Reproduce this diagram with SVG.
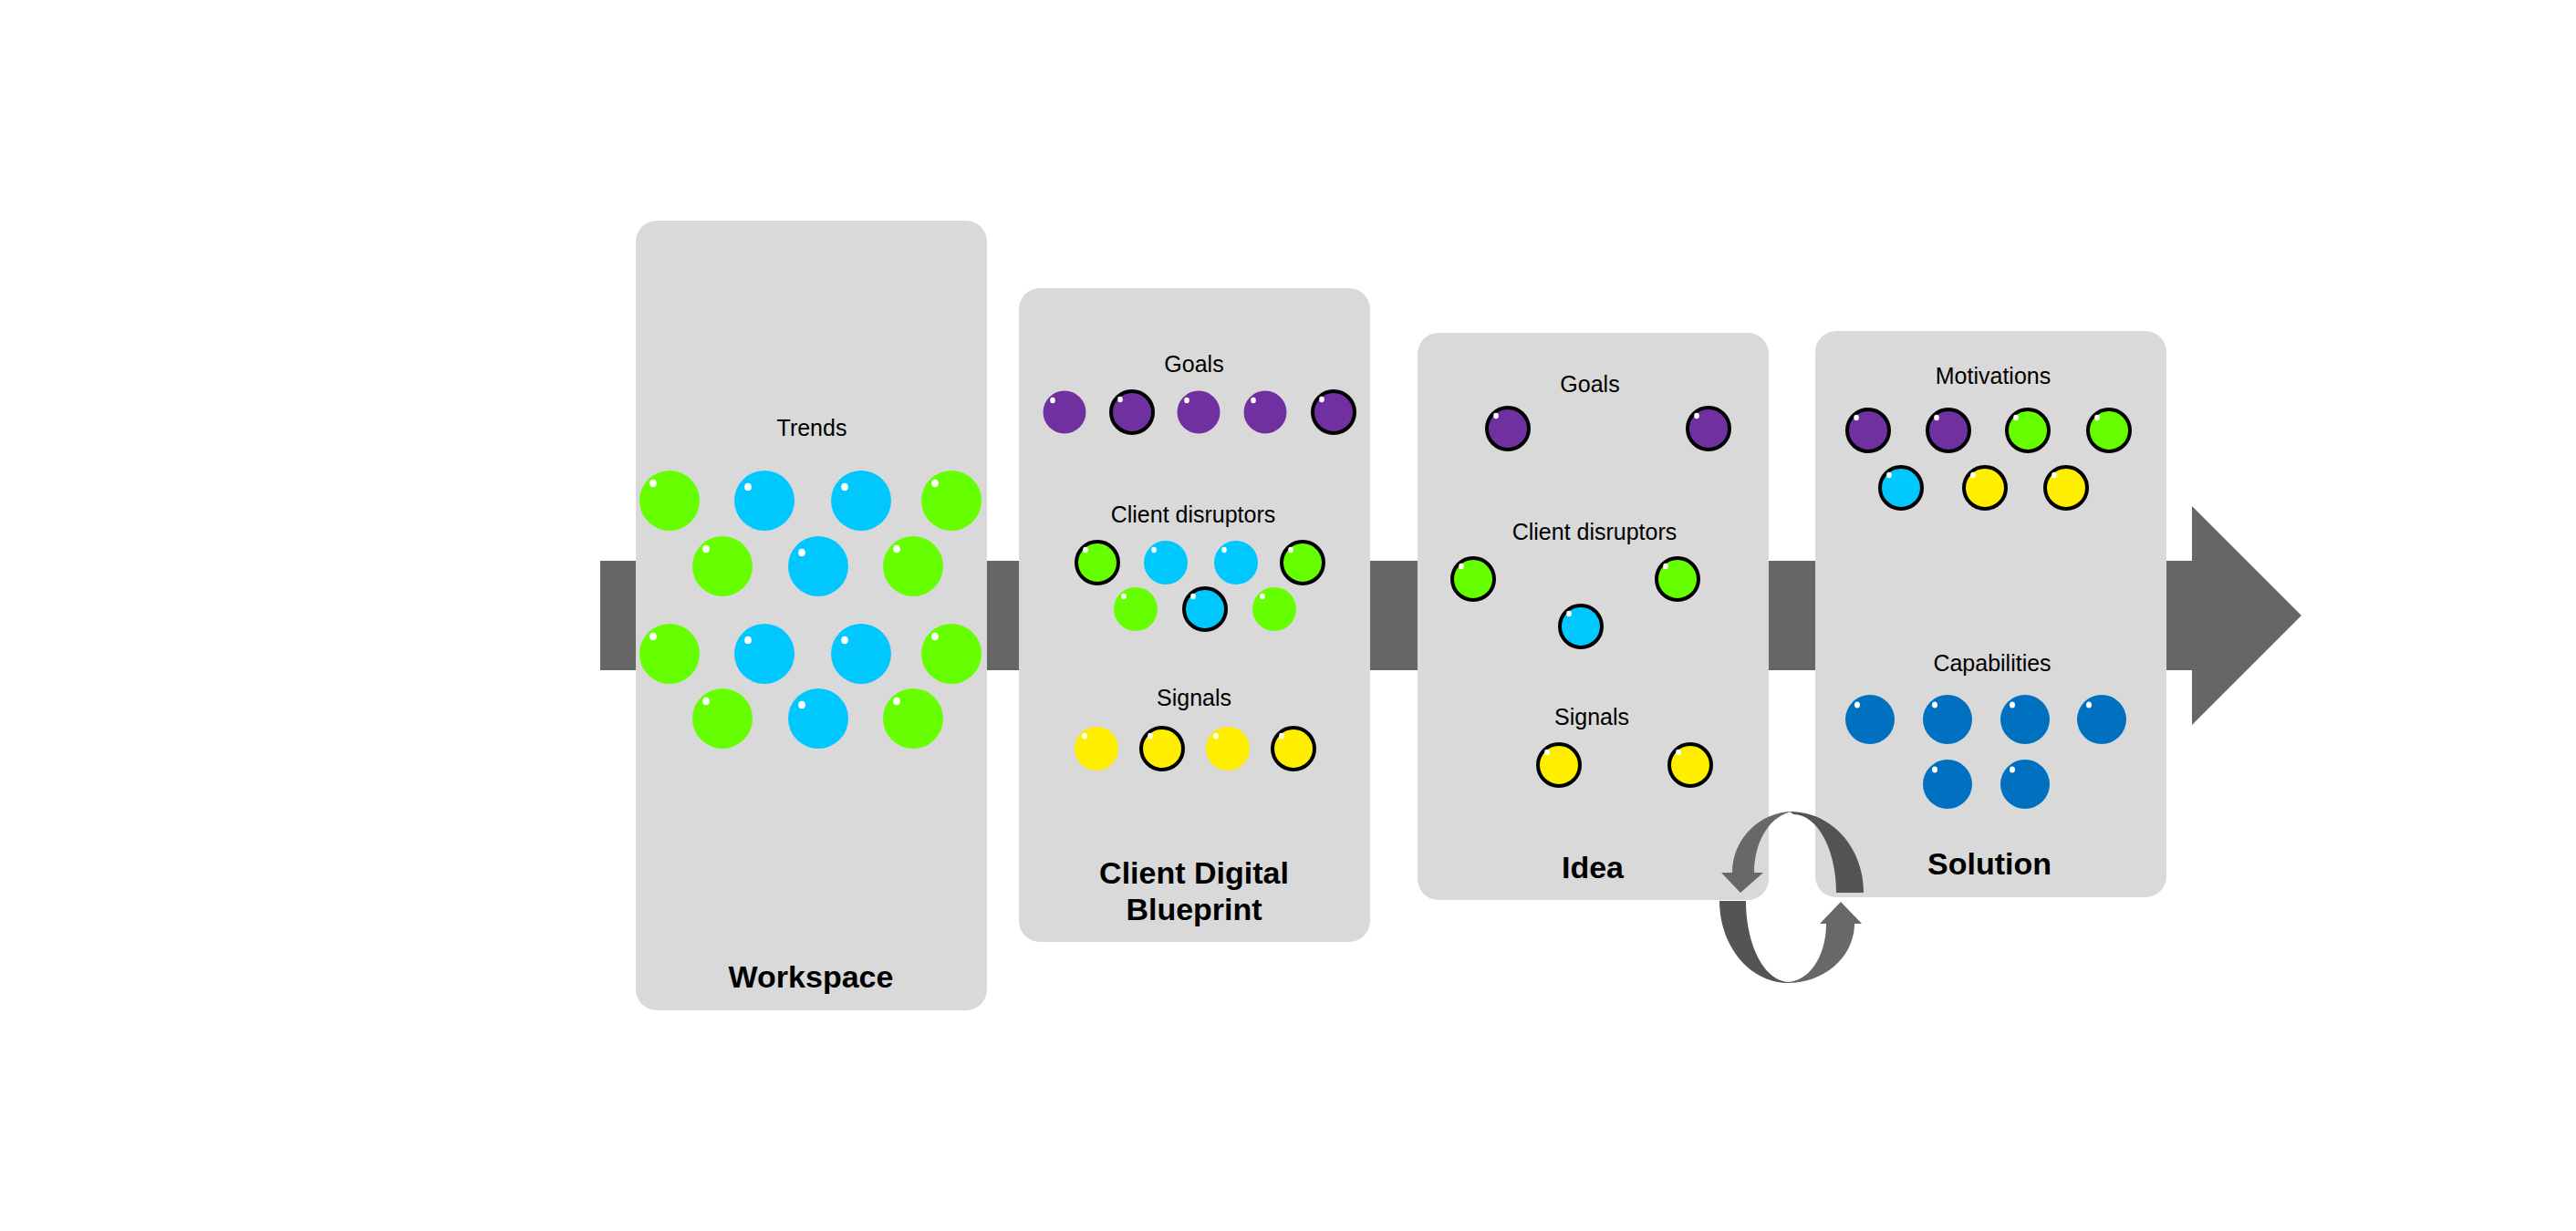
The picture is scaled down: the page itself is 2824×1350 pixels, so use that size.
<svg xmlns="http://www.w3.org/2000/svg" xmlns:xlink="http://www.w3.org/1999/xlink" width="2824" height="1350" viewBox="0 0 2824 1350">
  <style>
    .box { fill: #D9D9D9; }
    .lbl { font-family: "Liberation Sans", Arial, sans-serif; font-size: 25px; fill: #000; text-anchor: middle; }
    .ttl { font-family: "Liberation Sans", Arial, sans-serif; font-size: 34px; font-weight: bold; fill: #000; text-anchor: middle; }
    .hl { fill: #FFFFFF; }
    .ol { stroke: #000; stroke-width: 4; }
    .purple { fill: #7030A0; }
    .green { fill: #66FF00; }
    .blue { fill: #00C8FF; }
    .yellow { fill: #FFEE00; }
    .cap { fill: #0070C0; }
    .bar { fill: #676767; }
    .loop-light { fill: #686868; }
    .loop-dark { fill: #545454; }
  </style>
  <defs>
    <g id="big-green"><circle r="33" class="green"/><ellipse cx="-18" cy="-19" rx="3.8" ry="4.3" class="hl"/></g>
    <g id="big-blue"><circle r="33" class="blue"/><ellipse cx="-18" cy="-15" rx="3.8" ry="4.3" class="hl"/></g>
    <g id="p"><circle r="23.5" class="purple"/><ellipse cx="-13" cy="-13" rx="2.8" ry="3.2" class="hl"/></g>
    <g id="g"><circle r="24" class="green"/><ellipse cx="-13" cy="-14" rx="2.8" ry="3.2" class="hl"/></g>
    <g id="b"><circle r="24" class="blue"/><ellipse cx="-13" cy="-14" rx="2.8" ry="3.2" class="hl"/></g>
    <g id="y"><circle r="24" class="yellow"/><ellipse cx="-13" cy="-14" rx="2.8" ry="3.2" class="hl"/></g>
    <g id="po"><circle r="23" class="purple ol"/><ellipse cx="-13" cy="-14" rx="2.8" ry="3.2" class="hl"/></g>
    <g id="go"><circle r="23" class="green ol"/><ellipse cx="-13" cy="-14" rx="2.8" ry="3.2" class="hl"/></g>
    <g id="bo"><circle r="23" class="blue ol"/><ellipse cx="-13" cy="-14" rx="2.8" ry="3.2" class="hl"/></g>
    <g id="yo"><circle r="23" class="yellow ol"/><ellipse cx="-13" cy="-14" rx="2.8" ry="3.2" class="hl"/></g>
    <g id="c"><circle r="27" class="cap"/><ellipse cx="-14" cy="-16" rx="3" ry="3.6" class="hl"/></g>
  </defs>

  <rect width="2824" height="1350" fill="#FFFFFF"/>

  <g id="backbone">
    <path class="bar" d="M658,615 H2403 V555 L2523,675 L2403,795 V735 H658 Z"/>
  </g>

  <g id="workspace">
    <rect class="box" x="697" y="242" width="385" height="866" rx="23"/>
    <text class="lbl" x="890" y="478">Trends</text>
    <use xlink:href="#big-green" x="734" y="549"/>
    <use xlink:href="#big-blue" x="838" y="549"/>
    <use xlink:href="#big-blue" x="944" y="549"/>
    <use xlink:href="#big-green" x="1043" y="549"/>
    <use xlink:href="#big-green" x="792" y="621"/>
    <use xlink:href="#big-blue" x="897" y="621"/>
    <use xlink:href="#big-green" x="1001" y="621"/>
    <use xlink:href="#big-green" x="734" y="717"/>
    <use xlink:href="#big-blue" x="838" y="717"/>
    <use xlink:href="#big-blue" x="944" y="717"/>
    <use xlink:href="#big-green" x="1043" y="717"/>
    <use xlink:href="#big-green" x="792" y="788"/>
    <use xlink:href="#big-blue" x="897" y="788"/>
    <use xlink:href="#big-green" x="1001" y="788"/>
    <text class="ttl" x="889" y="1083">Workspace</text>
  </g>

  <g id="client-digital-blueprint">
    <rect class="box" x="1117" y="316" width="385" height="717" rx="23"/>
    <text class="lbl" x="1309" y="408">Goals</text>
    <use xlink:href="#p" x="1167" y="452"/>
    <use xlink:href="#po" x="1241" y="452"/>
    <use xlink:href="#p" x="1314" y="452"/>
    <use xlink:href="#p" x="1387" y="452"/>
    <use xlink:href="#po" x="1462" y="452"/>
    <text class="lbl" x="1308" y="573">Client disruptors</text>
    <use xlink:href="#go" x="1203" y="617"/>
    <use xlink:href="#b" x="1278" y="617"/>
    <use xlink:href="#b" x="1355" y="617"/>
    <use xlink:href="#go" x="1428" y="617"/>
    <use xlink:href="#g" x="1245" y="668"/>
    <use xlink:href="#bo" x="1321" y="668"/>
    <use xlink:href="#g" x="1397" y="668"/>
    <text class="lbl" x="1309" y="774">Signals</text>
    <use xlink:href="#y" x="1202" y="821"/>
    <use xlink:href="#yo" x="1274" y="821"/>
    <use xlink:href="#y" x="1346" y="821"/>
    <use xlink:href="#yo" x="1418" y="821"/>
    <text class="ttl" x="1309" y="969">Client Digital</text>
    <text class="ttl" x="1309" y="1009">Blueprint</text>
  </g>

  <g id="idea">
    <rect class="box" x="1554" y="365" width="385" height="622" rx="23"/>
    <text class="lbl" x="1743" y="430">Goals</text>
    <use xlink:href="#po" x="1653" y="470"/>
    <use xlink:href="#po" x="1873" y="470"/>
    <text class="lbl" x="1748" y="592">Client disruptors</text>
    <use xlink:href="#go" x="1615" y="635"/>
    <use xlink:href="#go" x="1839" y="635"/>
    <use xlink:href="#bo" x="1733" y="687"/>
    <text class="lbl" x="1745" y="795">Signals</text>
    <use xlink:href="#yo" x="1709" y="839"/>
    <use xlink:href="#yo" x="1853" y="839"/>
    <text class="ttl" x="1746" y="963">Idea</text>
  </g>

  <g id="solution">
    <rect class="box" x="1990" y="363" width="385" height="621" rx="23"/>
    <text class="lbl" x="2185" y="421">Motivations</text>
    <use xlink:href="#po" x="2048" y="472"/>
    <use xlink:href="#po" x="2136" y="472"/>
    <use xlink:href="#go" x="2223" y="472"/>
    <use xlink:href="#go" x="2312" y="472"/>
    <use xlink:href="#bo" x="2084" y="535"/>
    <use xlink:href="#yo" x="2176" y="535"/>
    <use xlink:href="#yo" x="2265" y="535"/>
    <text class="lbl" x="2184" y="736">Capabilities</text>
    <use xlink:href="#c" x="2050" y="789"/>
    <use xlink:href="#c" x="2135" y="789"/>
    <use xlink:href="#c" x="2220" y="789"/>
    <use xlink:href="#c" x="2304" y="789"/>
    <use xlink:href="#c" x="2135" y="860"/>
    <use xlink:href="#c" x="2220" y="860"/>
    <text class="ttl" x="2181" y="959">Solution</text>
  </g>

  <g id="connectors">
    <path class="loop-dark" d="M1962,890 C2008.5,890 2043,929.8 2043,979 L2013,979 C2013,931 1992,893 1966,893 Z"/>
    <path class="loop-light" d="M1899,957 C1899,920 1929,890 1966,890 C1942,893 1923,921 1923,957 L1933,957 L1908,979 L1887,957 Z"/>
    <path class="loop-dark" d="M1885,988 L1914,988 C1914,1037.2 1934.6,1077 1962,1077 L1960,1078 C1918.6,1078 1885,1037.7 1885,988 Z"/>
    <path class="loop-light" d="M1960,1078 C2000.3,1078 2033,1048.9 2033,1013 L2041,1013 L2018,989 L1995,1013 L2002,1013 C2002,1048.3 1983.6,1077 1958,1077 Z"/>
  </g>
</svg>
